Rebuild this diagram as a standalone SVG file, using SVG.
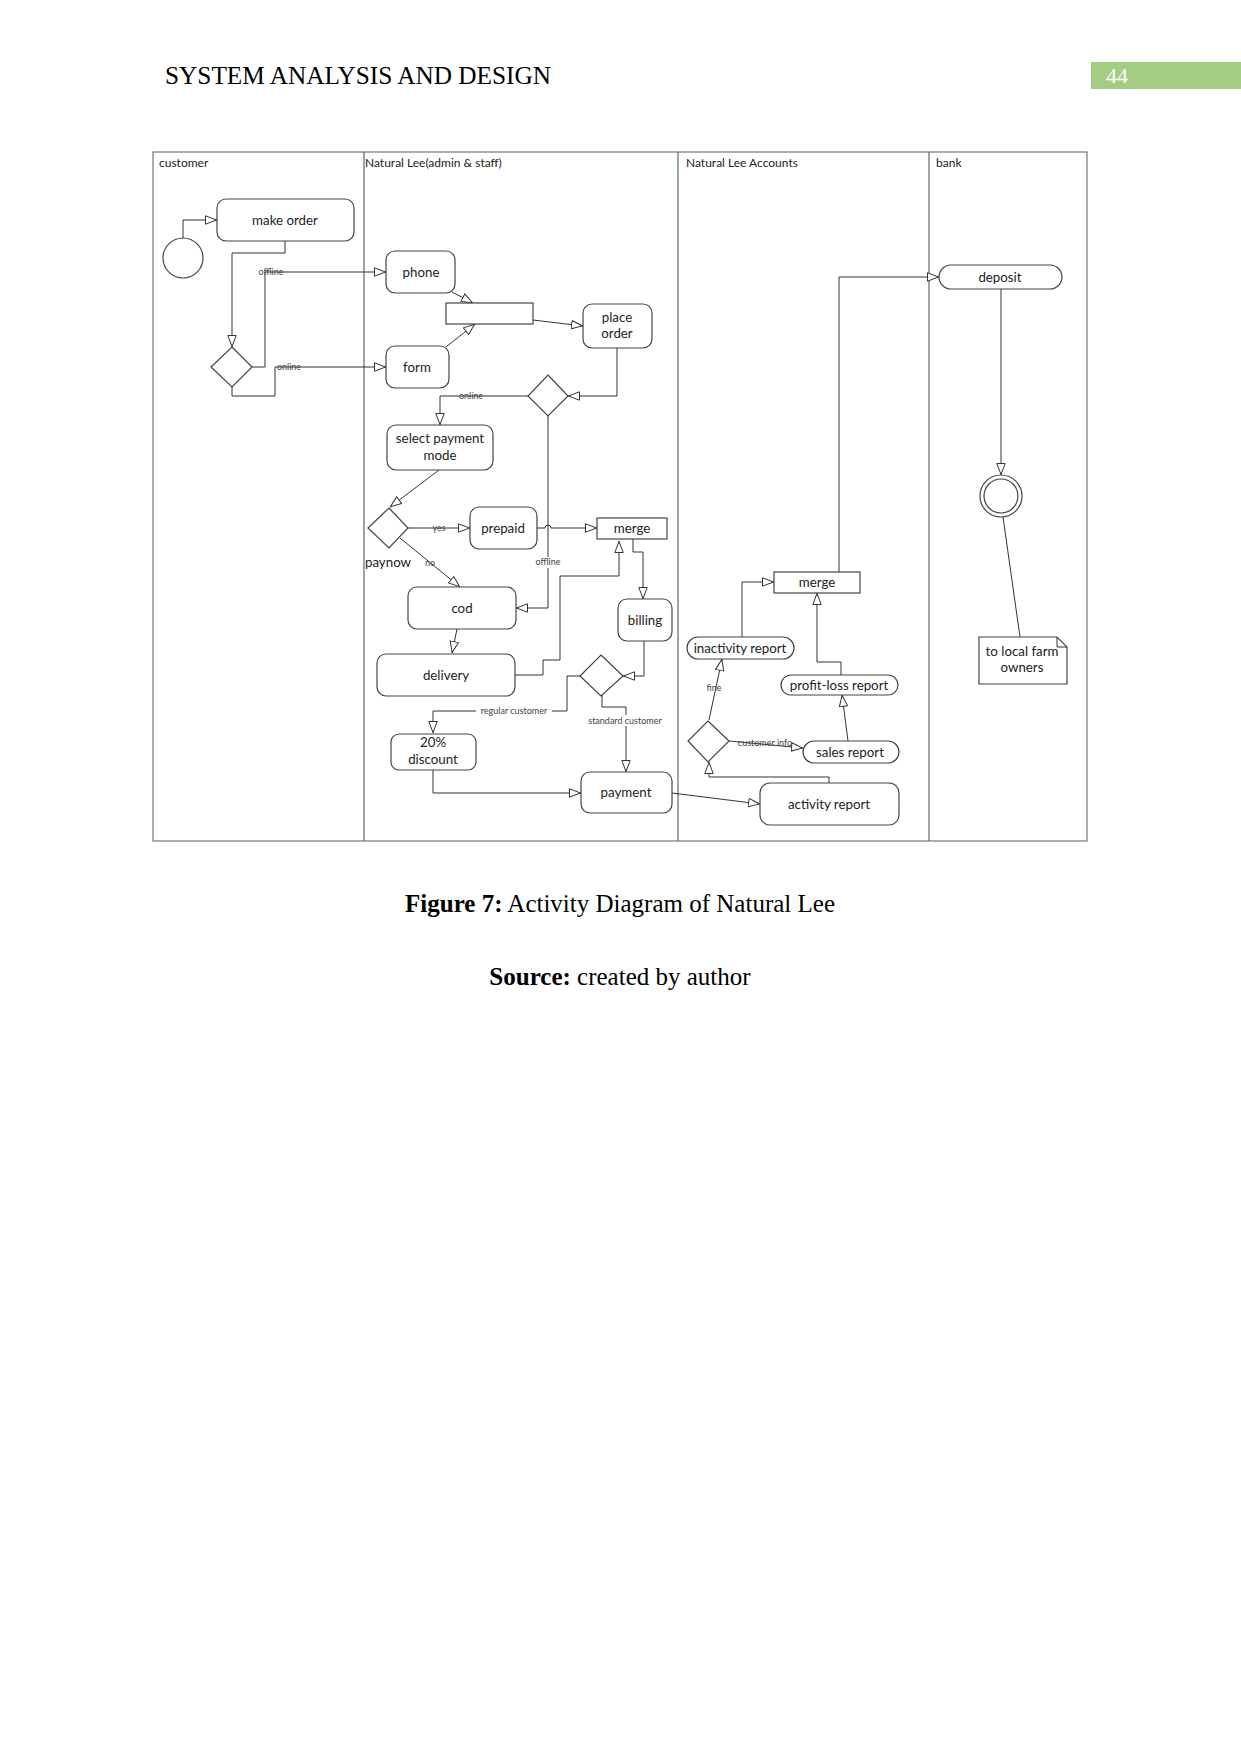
<svg xmlns="http://www.w3.org/2000/svg" width="1241" height="1754" viewBox="0 0 1241 1754">
<style>
.box{fill:#fff;stroke:#444;stroke-width:1.2}
.t{font-family:Lato,"Open Sans","Liberation Sans",sans-serif;font-size:13.3px;fill:#222;text-anchor:middle}
.lane{font-family:Lato,"Open Sans","Liberation Sans",sans-serif;font-size:12px;fill:#222}
.sm{font-family:Lato,"Open Sans","Liberation Sans",sans-serif;font-size:9px;fill:#444;text-anchor:middle}
.c{fill:none;stroke:#333;stroke-width:1;marker-end:url(#arr)}
.cn{fill:none;stroke:#333;stroke-width:1}
.serif{font-family:"Liberation Serif","Times New Roman",serif;fill:#000}
</style>
<defs>
<marker id="arr" viewBox="0 0 12 10" refX="12" refY="5" markerWidth="12" markerHeight="10" markerUnits="userSpaceOnUse" orient="auto">
<path d="M0.5,0.8 L11.5,5 L0.5,9.2 Z" fill="#fff" stroke="#333" stroke-width="1"/>
</marker>
</defs>
<rect width="1241" height="1754" fill="#fff"/>

<!-- page header -->
<text class="serif" x="165" y="84" font-size="25" textLength="386" lengthAdjust="spacingAndGlyphs">SYSTEM ANALYSIS AND DESIGN</text>
<rect x="1091" y="62" width="150" height="27" fill="#a3cd82"/>
<text x="1106" y="83" font-family="Liberation Serif,serif" font-size="22" fill="#fff">44</text>

<!-- swimlanes -->
<g id="lanes">
<rect x="153" y="152" width="934" height="689" fill="none" stroke="#777" stroke-width="1.2"/>
<line x1="364" y1="152" x2="364" y2="841" stroke="#666" stroke-width="1.2"/>
<line x1="678" y1="152" x2="678" y2="841" stroke="#666" stroke-width="1.2"/>
<line x1="929" y1="152" x2="929" y2="841" stroke="#666" stroke-width="1.2"/>
<text class="lane" x="159" y="167">customer</text>
<text class="lane" x="365" y="167">Natural Lee(admin &amp; staff)</text>
<text class="lane" x="686" y="167">Natural Lee Accounts</text>
<text class="lane" x="936" y="167">bank</text>
</g>

<!-- connectors -->
<g id="connectors">
<path class="c" d="M183,238 V220 H217"/>
<path class="c" d="M285,241 V253 H232 V347"/>
<path class="c" d="M252,367 H265 V272 H386"/>
<path class="c" d="M232,387 V396 H275 V367 H386"/>
<path class="c" d="M452,292 L473,303"/>
<path class="c" d="M446,347 L475,324"/>
<path class="c" d="M533,320 L583,326"/>
<path class="c" d="M617,348 V396 H568"/>
<path class="c" d="M528,396 H440 V425"/>
<path class="c" d="M548,416 V608 H516"/>
<path class="c" d="M439,470 L390,507"/>
<path class="c" d="M408,528 H470"/>
<path class="c" d="M400,538 L460,587"/>
<path class="c" d="M537,528 H545 A3,3 0 0 1 551,528 H597"/>
<path class="c" d="M633,539 V552 H643 V599"/>
<path class="c" d="M457,629 L452,653"/>
<path class="c" d="M515,675 H543 V660 H560 V576 H619 V541"/>
<path class="c" d="M644,641 V676 H623"/>
<path class="c" d="M580,676 H567 V711 H433 V733"/>
<path class="c" d="M602,695 V707 H626 V772"/>
<path class="c" d="M433,770 V793 H581"/>
<path class="c" d="M672,793 L760,804"/>
<path class="c" d="M829,783 V777 H709 V762"/>
<path class="c" d="M709,720 L722,659"/>
<path class="c" d="M729,741 L803,748"/>
<path class="c" d="M848,741 L842,695"/>
<path class="c" d="M841,675 V662 H817 V593"/>
<path class="c" d="M742,637 V582 H774"/>
<path class="c" d="M839,572 V277 H939"/>
<path class="c" d="M1001,289 V475"/>
<path class="cn" d="M1003,517 L1020,637"/>
<text class="sm" x="271" y="275">offline</text>
<text class="sm" x="289" y="370">online</text>
<text class="sm" x="471" y="399">online</text>
<rect x="531" y="557" width="34" height="11" fill="#fff"/>
<text class="sm" x="548" y="565">offline</text>
<text class="sm" x="439" y="531">yes</text>
<text class="sm" x="430" y="566">no</text>
<rect x="476" y="705" width="76" height="11" fill="#fff"/>
<text class="sm" x="514" y="714">regular customer</text>
<rect x="584" y="715" width="84" height="11" fill="#fff"/>
<text class="sm" x="625" y="724">standard customer</text>
<text class="sm" x="714" y="691">fine</text>
<text class="sm" x="765" y="746">customer info</text>
</g>

<!-- nodes -->
<g id="start"><circle cx="183" cy="258" r="20" fill="#fff" stroke="#444" stroke-width="1.2"/></g>
<g id="make-order"><rect class="box" x="217" y="199" width="137" height="42" rx="9"/><text class="t" x="285" y="225">make order</text></g>
<g id="decision-1"><path class="box" d="M232,347 L252,367 L232,387 L211,367 Z"/></g>
<g id="phone"><rect class="box" x="386" y="251" width="69" height="42" rx="9"/><text class="t" x="421" y="277">phone</text></g>
<g id="form"><rect class="box" x="386" y="346" width="63" height="42" rx="9"/><text class="t" x="417" y="372">form</text></g>
<g id="join-bar"><rect class="box" x="446" y="303" width="87" height="21"/></g>
<g id="place-order"><rect class="box" x="583" y="304" width="69" height="44" rx="9"/><text class="t" x="617" y="322">place</text><text class="t" x="617" y="338">order</text></g>
<g id="decision-2"><path class="box" d="M548,375 L568,396 L548,416 L528,396 Z"/></g>
<g id="select-payment"><rect class="box" x="387" y="425" width="106" height="45" rx="9"/><text class="t" x="440" y="443">select payment</text><text class="t" x="440" y="460">mode</text></g>
<g id="decision-paynow"><path class="box" d="M389,508 L408,528 L389,548 L368,528 Z"/><text class="t" x="388" y="567">paynow</text></g>
<g id="prepaid"><rect class="box" x="470" y="507" width="67" height="42" rx="9"/><text class="t" x="503" y="533">prepaid</text></g>
<g id="merge-1"><rect class="box" x="597" y="518" width="70" height="21"/><text class="t" x="632" y="533">merge</text></g>
<g id="billing"><rect class="box" x="618" y="599" width="54" height="42" rx="9"/><text class="t" x="645" y="625">billing</text></g>
<g id="cod"><rect class="box" x="408" y="587" width="108" height="42" rx="9"/><text class="t" x="462" y="613">cod</text></g>
<g id="delivery"><rect class="box" x="377" y="654" width="138" height="42" rx="9"/><text class="t" x="446" y="680">delivery</text></g>
<g id="decision-3"><path class="box" d="M601,655 L623,676 L601,696 L580,676 Z"/></g>
<g id="discount"><rect class="box" x="391" y="734" width="85" height="36" rx="8"/><text class="t" x="433" y="747">20%</text><text class="t" x="433" y="764">discount</text></g>
<g id="payment"><rect class="box" x="581" y="772" width="91" height="41" rx="9"/><text class="t" x="626" y="797">payment</text></g>
<g id="activity-report"><rect class="box" x="760" y="783" width="139" height="42" rx="10"/><text class="t" x="829" y="809">activity report</text></g>
<g id="decision-4"><path class="box" d="M708,721 L729,741 L708,762 L688,741 Z"/></g>
<g id="sales-report"><rect class="box" x="803" y="741" width="96" height="22" rx="11"/><text class="t" x="850" y="757">sales report</text></g>
<g id="profit-loss-report"><rect class="box" x="781" y="675" width="117" height="20" rx="10"/><text class="t" x="839" y="690">profit-loss report</text></g>
<g id="inactivity-report"><rect class="box" x="687" y="637" width="107" height="22" rx="11"/><text class="t" x="740" y="653">inactivity report</text></g>
<g id="merge-2"><rect class="box" x="774" y="572" width="86" height="21"/><text class="t" x="817" y="587">merge</text></g>
<g id="deposit"><rect class="box" x="939" y="265" width="123" height="24" rx="12"/><text class="t" x="1000" y="282">deposit</text></g>
<g id="final"><circle cx="1001" cy="496" r="21" fill="#fff" stroke="#444" stroke-width="1.2"/><circle cx="1001" cy="496" r="17" fill="#fff" stroke="#444" stroke-width="1.2"/></g>
<g id="note"><path class="box" d="M979,637 H1057 L1067,647 V684 H979 Z"/><path class="cn" d="M1057,637 V647 H1067"/><text class="t" x="1022" y="656">to local farm</text><text class="t" x="1022" y="672">owners</text></g>

<!-- caption -->
<text class="serif" x="620" y="912" font-size="25" text-anchor="middle"><tspan font-weight="bold">Figure 7:</tspan> Activity Diagram of Natural Lee</text>
<text class="serif" x="620" y="985" font-size="25" text-anchor="middle"><tspan font-weight="bold">Source:</tspan> created by author</text>
</svg>
